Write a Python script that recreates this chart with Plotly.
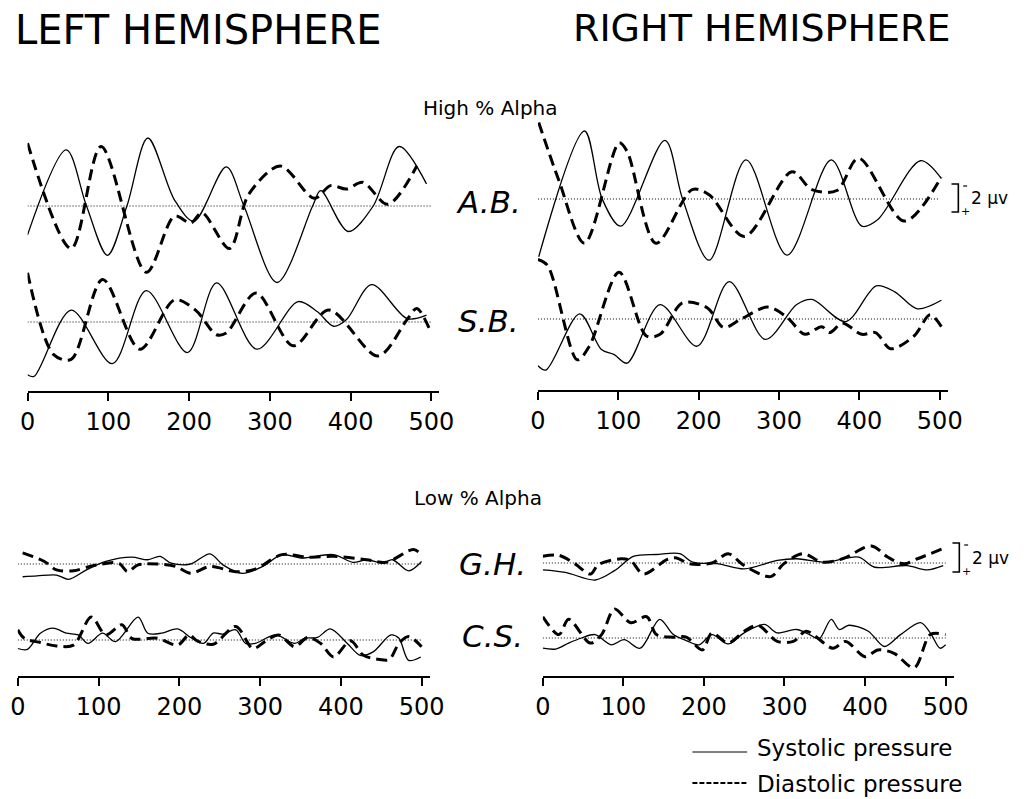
import plotly.graph_objects as go

W, H = 1032, 799

# ---------------- data (time in ms, deviation in µV) ----------------
# A.B. left hemisphere
ab_l_sys_t = [0, 48, 73, 99, 123, 149, 182, 206, 246, 268, 309, 353, 363, 397, 428, 460, 494]
ab_l_sys_v = [-1.7, 3.3, 0.0, -2.9, 0.0, 4.0, 0.35, -0.9, 2.3, 0.0, -4.5, 0.0, 0.9, -1.5, 0.0, 3.5, 1.3]
ab_l_dia_t = [0, 54, 91, 147, 182, 202, 216, 250, 274, 313, 355, 375, 395, 415, 446, 482]
ab_l_dia_v = [3.7, -2.5, 3.5, -3.9, -0.6, -1.0, -0.4, -2.5, 0.7, 2.35, 0.45, 1.2, 1.0, 1.4, 0.1, 2.35]

# S.B. left hemisphere
sb_l_sys_t = [0, 8, 54, 105, 147, 198, 234, 284, 335, 359, 379, 395, 426, 470, 494]
sb_l_sys_v = [-3.1, -3.2, 0.7, -2.45, 1.85, -1.8, 2.3, -1.6, 1.2, 0.6, -0.25, 0.15, 2.2, 0.2, 0.4]
sb_l_dia_t = [0, 32, 54, 93, 139, 182, 208, 234, 246, 283, 329, 373, 434, 470, 482, 498]
sb_l_dia_v = [2.9, -1.9, -2.2, 2.5, -1.6, 1.3, 0.7, -0.75, -0.65, 1.7, -1.4, 0.7, -2.0, 0.15, 0.8, -0.45]

# A.B. right hemisphere
ab_r_sys_t = [1, 58, 80, 103, 158, 180, 213, 259, 310, 365, 403, 423, 476, 502]
ab_r_sys_v = [-3.4, 4.0, 0.0, -1.6, 3.45, 0.0, -3.6, 2.3, -3.3, 2.3, -1.6, -1.2, 2.25, 1.2]
ab_r_dia_t = [1, 26, 58, 101, 111, 147, 192, 213, 257, 316, 341, 372, 399, 456, 502]
ab_r_dia_v = [4.5, 1.1, -2.6, 3.3, 2.8, -2.6, 0.55, 0.25, -2.2, 1.6, 0.55, 0.5, 2.4, -1.3, 1.3]

# S.B. right hemisphere
sb_r_sys_t = [0, 10, 52, 79, 95, 111, 152, 198, 238, 283, 322, 341, 383, 421, 444, 472, 502]
sb_r_sys_v = [-2.75, -3.0, 0.3, -1.8, -2.1, -2.6, 0.85, -1.6, 2.2, -1.2, 0.85, 1.15, -0.15, 1.95, 1.6, 0.6, 1.1]
sb_r_dia_t = [0, 12, 49, 64, 101, 135, 152, 180, 211, 231, 253, 286, 310, 332, 353, 363, 379, 403, 420, 439, 468, 488, 502]
sb_r_dia_v = [3.5, 3.15, -2.4, -1.6, 2.75, -1.0, -0.9, 0.95, 0.65, -0.5, 0.0, 0.7, 0.1, -0.9, -0.45, -0.8, -0.25, -0.9, -0.8, -1.75, -1.0, 0.25, -0.45]

# G.H. left hemisphere
gh_l_sys_t = [6, 24, 48, 63, 85, 109, 141, 161, 176, 190, 214, 238, 254, 278, 303, 327, 351, 391, 415, 432, 452, 464, 484, 500]
gh_l_sys_v = [-0.75, -0.7, -0.65, -0.9, -0.35, 0.15, 0.4, 0.25, 0.45, 0.05, 0.0, 0.6, -0.05, -0.55, -0.15, 0.55, 0.35, 0.55, 0.1, 0.25, 0.05, 0.25, -0.4, 0.15]
gh_l_dia_t = [6, 33, 48, 69, 93, 125, 136, 149, 173, 196, 214, 238, 270, 294, 327, 359, 391, 432, 456, 490, 500]
gh_l_dia_v = [0.65, 0.15, -0.35, -0.4, -0.1, 0.05, -0.45, -0.05, 0.0, -0.15, -0.55, -0.15, -0.45, -0.3, 0.55, 0.4, 0.45, 0.25, 0.1, 0.85, 0.55]

# C.S. left hemisphere
cs_l_sys_t = [0, 12, 28, 44, 60, 75, 87, 105, 121, 149, 161, 178, 198, 214, 230, 242, 254, 270, 282, 294, 319, 343, 355, 371, 387, 408, 424, 440, 462, 472, 484, 499]
cs_l_sys_v = [-0.5, -0.55, 0.4, 0.7, 0.4, 0.3, -0.2, 0.4, -0.1, 1.35, 0.4, 0.4, 0.65, 0.15, -0.2, 0.4, 0.35, 0.6, -0.2, -0.2, 0.3, -0.2, 0.1, 0.15, 0.65, -0.2, -0.9, -0.7, 0.3, 0.1, -1.2, -1.0]
cs_l_dia_t = [0, 8, 28, 48, 69, 91, 109, 129, 141, 173, 198, 212, 222, 242, 270, 291, 306, 323, 343, 359, 375, 391, 412, 428, 448, 460, 472, 484, 500]
cs_l_dia_v = [0.6, 0.1, -0.15, -0.35, -0.3, 1.35, 0.3, 0.9, 0.1, 0.1, -0.3, 0.3, -0.05, -0.25, 0.8, -0.5, -0.1, 0.3, -0.4, 0.15, -0.2, -1.0, -0.05, -0.9, -1.15, -1.15, -0.2, 0.2, -0.4]

# G.H. right hemisphere
gh_r_sys_t = [0, 28, 65, 89, 113, 141, 170, 186, 218, 250, 291, 315, 351, 392, 412, 452, 477, 497]
gh_r_sys_v = [-0.4, -0.55, -1.0, -0.45, 0.4, 0.5, 0.55, 0.05, -0.05, -0.35, 0.15, 0.25, 0.05, 0.35, -0.25, -0.15, -0.4, -0.15]
gh_r_dia_t = [0, 20, 40, 59, 69, 97, 109, 125, 154, 166, 182, 210, 230, 250, 283, 299, 323, 347, 372, 408, 428, 448, 465, 497]
gh_r_dia_v = [0.4, 0.45, -0.05, -0.65, -0.1, 0.25, 0.15, -0.65, 0.2, 0.3, -0.05, 0.0, 0.55, -0.15, -0.8, -0.05, 0.55, 0.05, 0.25, 1.0, 0.35, -0.05, 0.25, 0.85]

# C.S. right hemisphere
cs_r_sys_t = [0, 16, 32, 48, 65, 85, 101, 121, 145, 162, 178, 194, 210, 230, 250, 275, 291, 315, 331, 343, 358, 368, 380, 404, 424, 444, 469, 481, 493, 500]
cs_r_sys_v = [-0.6, -0.65, -0.3, 0.0, 0.2, -0.4, -0.1, -0.6, 1.1, 0.2, -0.15, -0.4, 0.2, -0.35, 0.3, 0.8, 0.3, 0.5, 0.2, -0.05, 1.1, 0.5, 0.75, 0.4, -0.5, 0.2, 0.9, 0.3, -0.6, -0.4]
cs_r_dia_t = [0, 20, 32, 59, 73, 89, 109, 129, 141, 162, 178, 198, 210, 230, 250, 267, 291, 311, 327, 360, 376, 400, 416, 436, 461, 481, 500]
cs_r_dia_v = [1.25, 0.2, 1.1, -0.3, 0.2, 1.7, 0.9, 1.25, 0.2, 0.05, 0.05, -0.7, 0.3, -0.3, 0.4, 0.75, -0.2, -0.2, 0.4, -0.6, -0.2, -1.1, -0.7, -0.9, -1.75, 0.2, 0.2]

tick_vals = [0, 100, 200, 300, 400, 500]
tick_text = ["0", "100", "200", "300", "400", "500"]

FONT = "DejaVu Sans"

# ---------------- layout helpers ----------------
def fx(px):
    return px / W

def fy(py):
    return 1 - py / H

PXPERUV = 17.0
HALF = 100  # half height of each panel band in px

panels = [
    ("A.B.", 20, 433, 206, None, (ab_l_sys_t, ab_l_sys_v, ab_l_dia_t, ab_l_dia_v)),
    ("S.B.", 20, 433, 322, 392, (sb_l_sys_t, sb_l_sys_v, sb_l_dia_t, sb_l_dia_v)),
    ("A.B.", 542, 953, 199, None, (ab_r_sys_t, ab_r_sys_v, ab_r_dia_t, ab_r_dia_v)),
    ("S.B.", 542, 953, 319, 391, (sb_r_sys_t, sb_r_sys_v, sb_r_dia_t, sb_r_dia_v)),
    ("G.H.", 10, 423, 564, None, (gh_l_sys_t, gh_l_sys_v, gh_l_dia_t, gh_l_dia_v)),
    ("C.S.", 10, 423, 640, 677, (cs_l_sys_t, cs_l_sys_v, cs_l_dia_t, cs_l_dia_v)),
    ("G.H.", 547, 959, 563, None, (gh_r_sys_t, gh_r_sys_v, gh_r_dia_t, gh_r_dia_v)),
    ("C.S.", 547, 959, 638, 677, (cs_r_sys_t, cs_r_sys_v, cs_r_dia_t, cs_r_dia_v)),
]

fig = go.Figure()
layout = dict(
    width=W, height=H, autosize=False,
    margin=dict(l=0, r=0, t=0, b=0),
    paper_bgcolor="white", plot_bgcolor="rgba(0,0,0,0)",
    showlegend=False,
    font=dict(family=FONT, color="black"),
)
shapes = []
annotations = []

XMAX = 510
for i, (lab, x0, x500, base, axpy, (st, sv, dt, dv)) in enumerate(panels):
    n = i + 1
    xa = "x" if n == 1 else f"x{n}"
    ya = "y" if n == 1 else f"y{n}"
    xkey = "xaxis" if n == 1 else f"xaxis{n}"
    ykey = "yaxis" if n == 1 else f"yaxis{n}"
    pxms = (x500 - x0) / 500.0
    xend = x0 + XMAX * pxms
    xax = dict(domain=[fx(x0), fx(xend)], range=[0, XMAX], showgrid=False,
               zeroline=False, anchor=ya)
    if axpy is None:
        xax.update(visible=False)
    else:
        xax.update(anchor="free", position=fy(axpy), showline=True, linecolor="black",
                   linewidth=1.6, ticks="outside", ticklen=8, tickwidth=1.6,
                   tickcolor="black", tickvals=tick_vals, ticktext=tick_text,
                   tickfont=dict(family=FONT, size=24, color="black"))
    layout[xkey] = xax
    yr = HALF / PXPERUV
    layout[ykey] = dict(domain=[fy(base + HALF), fy(base - HALF)], range=[-yr, yr],
                        visible=False, showgrid=False, zeroline=False, anchor=xa)
    # baseline
    shapes.append(dict(type="line", xref=xa, yref=ya, x0=0, x1=500, y0=0, y1=0,
                       line=dict(color="black", width=1, dash="1px,2px")))
    fig.add_trace(go.Scatter(x=st, y=sv, xaxis=xa, yaxis=ya, mode="lines",
                             name="Systolic pressure",
                             line=dict(color="black", width=1.3, shape="spline", smoothing=0.9)))
    fig.add_trace(go.Scatter(x=dt, y=dv, xaxis=xa, yaxis=ya, mode="lines",
                             name="Diastolic pressure",
                             line=dict(color="black", width=3, dash="11px,6px",
                                       shape="spline", smoothing=0.9)))

# subject labels
for lab, px, py in [("A.B.", 491, 202), ("S.B.", 491, 321), ("G.H.", 496, 564), ("C.S.", 496, 636)]:
    annotations.append(dict(text=f"<i>{lab}</i>", x=fx(px), y=fy(py), xref="paper", yref="paper",
                            showarrow=False, xanchor="center", yanchor="middle",
                            font=dict(family=FONT, size=31, color="black")))

# titles
annotations += [
    dict(text="LEFT HEMISPHERE", x=fx(195), y=fy(30), xanchor="center", yanchor="middle",
         font=dict(family=FONT, size=40, color="black")),
    dict(text="RIGHT HEMISPHERE", x=fx(771), y=fy(28), xanchor="center", yanchor="middle",
         font=dict(family=FONT, size=38, color="black")),
    dict(text="High % Alpha", x=fx(494), y=fy(108), xanchor="center", yanchor="middle",
         font=dict(family=FONT, size=20, color="black")),
    dict(text="Low % Alpha", x=fx(481), y=fy(498), xanchor="center", yanchor="middle",
         font=dict(family=FONT, size=20, color="black")),
]
for a in annotations:
    a.setdefault("xref", "paper")
    a.setdefault("yref", "paper")
    a.setdefault("showarrow", False)

# scale brackets (2 µV)
for bx, btop, bbot in [(965, 184, 212), (966, 543, 572)]:
    shapes.append(dict(type="path", xref="paper", yref="paper",
                       path=f"M {fx(bx)} {fy(btop)} L {fx(bx+7)} {fy(btop)} L {fx(bx+7)} {fy(bbot)} L {fx(bx)} {fy(bbot)}",
                       line=dict(color="black", width=1.6)))
    shapes.append(dict(type="line", xref="paper", yref="paper", x0=fx(bx + 12), x1=fx(bx + 16),
                       y0=fy(btop + 2), y1=fy(btop + 2), line=dict(color="black", width=1.2)))
    annotations.append(dict(text="+", x=fx(bx + 14), y=fy(bbot - 1), xref="paper", yref="paper",
                            showarrow=False, xanchor="center", yanchor="middle",
                            font=dict(family=FONT, size=11, color="black")))
    annotations.append(dict(text="2 µv", x=fx(bx + 18), y=fy((btop + bbot) / 2), xref="paper",
                            yref="paper", showarrow=False, xanchor="left", yanchor="middle",
                            font=dict(family=FONT, size=17, color="black")))

# legend (drawn manually)
shapes.append(dict(type="line", xref="paper", yref="paper", x0=fx(700), x1=fx(756),
                   y0=fy(752), y1=fy(752), line=dict(color="black", width=1)))
shapes.append(dict(type="line", xref="paper", yref="paper", x0=fx(700), x1=fx(756),
                   y0=fy(783), y1=fy(783), line=dict(color="black", width=2, dash="5px,2px")))
annotations.append(dict(text="Systolic pressure", x=fx(764), y=fy(748), xref="paper", yref="paper",
                        showarrow=False, xanchor="left", yanchor="middle",
                        font=dict(family=FONT, size=23, color="black")))
annotations.append(dict(text="Diastolic pressure", x=fx(764), y=fy(784), xref="paper", yref="paper",
                        showarrow=False, xanchor="left", yanchor="middle",
                        font=dict(family=FONT, size=23, color="black")))

layout["shapes"] = shapes
layout["annotations"] = annotations
fig.update_layout(**layout)
fig.write_html("out.html", config={"displayModeBar": False},
               post_script="document.body.style.margin='0';document.body.style.overflow='hidden';")
